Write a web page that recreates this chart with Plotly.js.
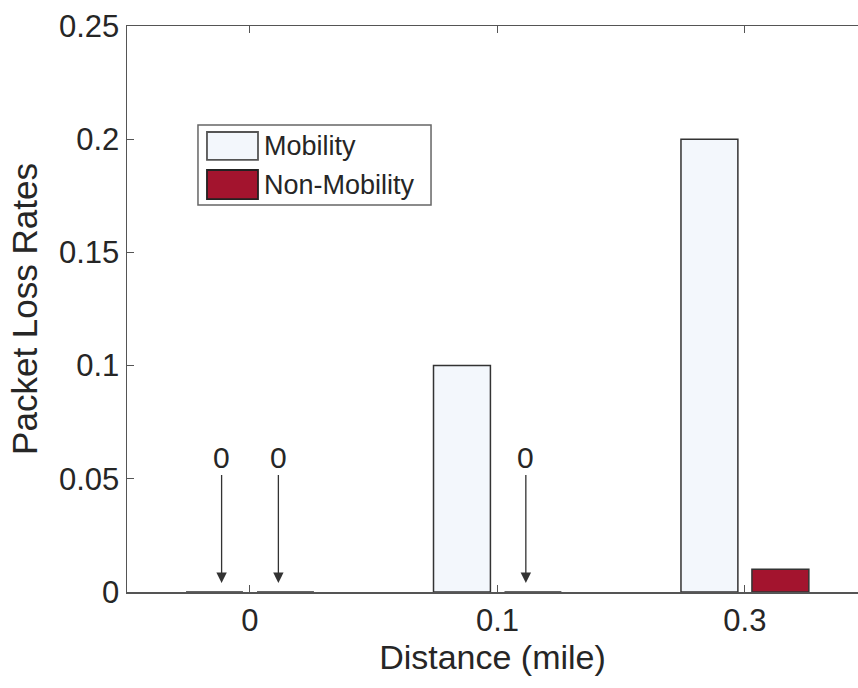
<!DOCTYPE html>
<html>
<head>
<meta charset="utf-8">
<script src="https://cdn.plot.ly/plotly-3.0.1.min.js"></script>
<style>html,body{margin:0;padding:0;background:#fff;}#chart{width:858px;height:688px;}</style>
</head>
<body>
<div id="chart"></div>
<script>
// ---- data ----
const distances = ['0', '0.1', '0.3'];
const seriesNames = ['Mobility', 'Non-Mobility'];
const mobility = [0, 0.1, 0.2];
const nonMobility = [0, 0, 0.01];
const yTickVals = [0, 0.05, 0.1, 0.15, 0.2, 0.25];
const yTickText = ['0', '0.05', '0.1', '0.15', '0.2', '0.25'];

// ---- style ----
const FONT = 'Liberation Sans, Arial, sans-serif';
const txt = '#262626';
const fills = ['#F3F7FC', '#A3142E'];
const barW = 0.23;
const centers = [-0.1434, 0.1434];   // bar centre offset within a group
const idx = distances.map((d, i) => i);
const series = [mobility, nonMobility];

const traces = series.map((vals, s) => ({
  type: 'bar',
  x: idx,
  y: vals,
  name: seriesNames[s],
  width: barW,
  offset: centers[s] - barW / 2,
  marker: {color: fills[s], line: {color: '#333333', width: 1.5}},
  showlegend: false,
  hoverinfo: 'skip'
}));

// annotations for zero values
const annotations = [];
series.forEach((vals, s) => {
  vals.forEach((v, i) => {
    if (v === 0) {
      annotations.push({
        x: i + centers[s] * 0.8, y: v, xref: 'x', yref: 'y',
        text: String(v), showarrow: true, arrowhead: 2, arrowsize: 1.6,
        arrowwidth: 1.3, arrowcolor: '#333', ax: 0, ay: -135, standoff: 9,
        font: {family: FONT, size: 30, color: txt}
      });
    }
  });
});

// custom legend (paper coords)
const shapes = [];
const lg = {x0: 0.0971, x1: 0.4159, y0: 0.6837, y1: 0.8251};
shapes.push({type: 'rect', xref: 'paper', yref: 'paper', x0: lg.x0, x1: lg.x1, y0: lg.y0, y1: lg.y1,
  line: {color: '#666', width: 1.5}, fillcolor: '#fff', layer: 'above'});
const swY = [[0.7633, 0.8127], [0.6943, 0.7456]];
seriesNames.forEach((n, s) => {
  shapes.push({type: 'rect', xref: 'paper', yref: 'paper', x0: 0.1094, x1: 0.1792,
    y0: swY[s][0], y1: swY[s][1], fillcolor: fills[s],
    line: {color: s === 0 ? '#555' : '#222', width: 1.8}, layer: 'above'});
  annotations.push({xref: 'paper', yref: 'paper', x: 0.184, y: (swY[s][0] + swY[s][1]) / 2,
    xanchor: 'left', yanchor: 'middle', showarrow: false, text: n,
    font: {family: FONT, size: 27, color: txt}});
});

const layout = {
  width: 858, height: 688,
  margin: {l: 127, r: 0, t: 26, b: 96},
  paper_bgcolor: '#fff', plot_bgcolor: '#fff',
  showlegend: false,
  barmode: 'group',
  font: {family: FONT, color: txt},
  xaxis: {
    range: [-0.497, 2.457],
    tickvals: idx, ticktext: distances,
    ticks: 'inside', ticklen: 7, tickwidth: 1, tickcolor: '#555',
    showline: true, linecolor: '#555', linewidth: 1.5, mirror: 'ticks',
    showgrid: false, zeroline: false,
    tickfont: {family: FONT, size: 31, color: txt},
    title: {text: 'Distance (mile)', font: {family: FONT, size: 34, color: txt}, standoff: 6}
  },
  yaxis: {
    range: [0, 0.25],
    tickvals: yTickVals, ticktext: yTickText,
    ticks: 'inside', ticklen: 7, tickwidth: 1, tickcolor: '#555',
    showline: true, linecolor: '#555', linewidth: 1.5, mirror: false,
    showgrid: false, zeroline: false,
    tickfont: {family: FONT, size: 31, color: txt},
    title: {text: 'Packet Loss Rates', font: {family: FONT, size: 35, color: txt}, standoff: 10}
  },
  shapes: shapes,
  annotations: annotations
};

Plotly.newPlot('chart', traces, layout, {displayModeBar: false, staticPlot: true});
</script>
</body>
</html>
